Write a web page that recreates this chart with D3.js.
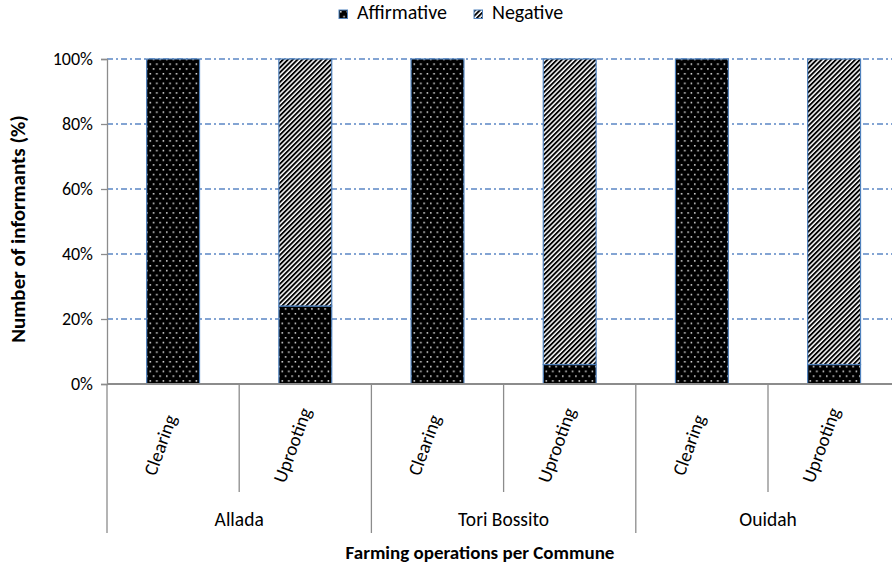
<!DOCTYPE html>
<html>
<head>
<meta charset="utf-8">
<script src="https://cdn.jsdelivr.net/npm/d3@7"></script>
<style>
  html, body { margin: 0; padding: 0; background: #fff; }
  svg { display: block; }
  text { font-family: Carlito, Calibri, Lato, "Open Sans", sans-serif; fill: #000; }
</style>
</head>
<body>
<svg id="chart" width="892" height="569"></svg>
<script>
// Communes and the farming operations surveyed in each
const communes = ["Allada", "Tori Bossito", "Ouidah"];
const operations = ["Clearing", "Uprooting"];
// Share of informants (%) per commune/operation, in commune order
const affirmative = [100, 24, 100, 6, 100, 6];
const negative = [0, 76, 0, 94, 0, 94];
const seriesNames = ["Affirmative", "Negative"];
const yTicks = [0, 20, 40, 60, 80, 100];

const svg = d3.select("#chart");
const W = 892, H = 569;
const margin = { left: 107, top: 59, bottom: 185 };
const plotBottom = H - margin.bottom; // 384
const step = 132.2;
const plotRight = margin.left + step * 6;

const rows = [];
communes.forEach((c, i) => operations.forEach((o, j) => {
  const k = i * operations.length + j;
  rows.push({ key: c + "|" + o, commune: c, op: o, Affirmative: affirmative[k], Negative: negative[k] });
}));

const x = d3.scaleBand()
  .domain(rows.map(d => d.key))
  .range([margin.left, plotRight])
  .paddingInner(0.6)
  .paddingOuter(0.3);

const y = d3.scaleLinear().domain([0, 100]).range([plotBottom, margin.top]);

// Fill patterns: white dots on black, black/white diagonal hatching
const defs = svg.append("defs");
const dots = defs.append("pattern")
  .attr("id", "dots").attr("patternUnits", "userSpaceOnUse")
  .attr("width", 6.6).attr("height", 9.6);
dots.append("rect").attr("width", 6.6).attr("height", 9.6).attr("fill", "#000");
dots.append("rect").attr("x", 1).attr("y", 1).attr("width", 1.5).attr("height", 1.5).attr("fill", "#eee");
dots.append("rect").attr("x", 4.3).attr("y", 5.8).attr("width", 1.5).attr("height", 1.5).attr("fill", "#eee");

const hatch = defs.append("pattern")
  .attr("id", "hatch").attr("patternUnits", "userSpaceOnUse")
  .attr("width", 3.4).attr("height", 3.4)
  .attr("patternTransform", "rotate(45)");
hatch.append("rect").attr("width", 3.4).attr("height", 3.4).attr("fill", "#fff");
hatch.append("rect").attr("x", 0).attr("width", 1.9).attr("height", 3.4).attr("fill", "#000");

const fills = { Affirmative: "url(#dots)", Negative: "url(#hatch)" };

// Gridlines
svg.append("g").selectAll("line")
  .data(yTicks.filter(t => t > 0))
  .join("line")
  .attr("x1", margin.left).attr("x2", W)
  .attr("y1", d => y(d)).attr("y2", d => y(d))
  .attr("stroke", "#5b87c5").attr("stroke-width", 1.3)
  .attr("stroke-dasharray", "6,3,2,3");

// Stacked bars
const stack = d3.stack().keys(seriesNames);
const layers = stack(rows);
svg.append("g").selectAll("g")
  .data(layers)
  .join("g")
  .attr("fill", d => fills[d.key])
  .selectAll("rect")
  .data(d => d.filter(s => s[1] - s[0] > 0))
  .join("rect")
  .attr("x", d => x(d.data.key))
  .attr("width", x.bandwidth())
  .attr("y", d => y(d[1]))
  .attr("height", d => y(d[0]) - y(d[1]))
  .attr("stroke", "#4f81bd").attr("stroke-width", 1.2);

// Y axis
const yAxis = d3.axisLeft(y).tickValues(yTicks).tickFormat(d => d + "%").tickSize(6).tickPadding(8);
const gy = svg.append("g").attr("transform", `translate(${margin.left},0)`).call(yAxis);
gy.select(".domain").attr("stroke", "#8c8c8c").attr("stroke-width", 1.3);
gy.selectAll(".tick line").attr("stroke", "#8c8c8c").attr("stroke-width", 1.3);
gy.selectAll("text").attr("font-size", 18).attr("font-family", null).attr("fill", "#000");

// Baseline
svg.append("line")
  .attr("x1", margin.left).attr("x2", W)
  .attr("y1", plotBottom).attr("y2", plotBottom)
  .attr("stroke", "#8c8c8c").attr("stroke-width", 1.8);

// Category separators: short ones between operations, long ones between communes
const sepG = svg.append("g").attr("stroke", "#8c8c8c").attr("stroke-width", 1.3);
for (let i = 0; i <= rows.length; i++) {
  const xs = margin.left + i * x.step();
  const long = i % operations.length === 0;
  sepG.append("line")
    .attr("x1", xs).attr("x2", xs)
    .attr("y1", plotBottom).attr("y2", long ? 533 : 492);
}

// Rotated operation labels
svg.append("g").selectAll("text")
  .data(rows)
  .join("text")
  .attr("transform", d => `translate(${x(d.key) + x.bandwidth() / 2 - 13},445) rotate(-70)`)
  .attr("text-anchor", "middle")
  .attr("dominant-baseline", "central")
  .attr("font-size", 19)
  .text(d => d.op);

// Commune labels
svg.append("g").selectAll("text")
  .data(communes)
  .join("text")
  .attr("x", (d, i) => margin.left + (i + 0.5) * operations.length * x.step())
  .attr("y", 526)
  .attr("text-anchor", "middle")
  .attr("font-size", 19.5)
  .text(d => d);

// Axis titles
svg.append("text")
  .attr("transform", `translate(25,229) rotate(-90)`)
  .attr("text-anchor", "middle")
  .attr("font-size", 21).attr("font-weight", "bold")
  .text("Number of informants (%)");

svg.append("text")
  .attr("x", 480).attr("y", 559)
  .attr("text-anchor", "middle")
  .attr("font-size", 19).attr("font-weight", "bold")
  .text("Farming operations per Commune");

// Legend
const legend = svg.append("g").attr("transform", "translate(339,10)");
const legendX = [0, 135];
seriesNames.forEach((s, i) => {
  const g = legend.append("g").attr("transform", `translate(${legendX[i]},0)`);
  g.append("rect").attr("width", 8.5).attr("height", 8.5)
    .attr("fill", fills[s]).attr("stroke", "#4f81bd").attr("stroke-width", 1);
  g.append("text").attr("x", 18).attr("y", 9).attr("font-size", 20).text(s);
});
</script>
</body>
</html>
